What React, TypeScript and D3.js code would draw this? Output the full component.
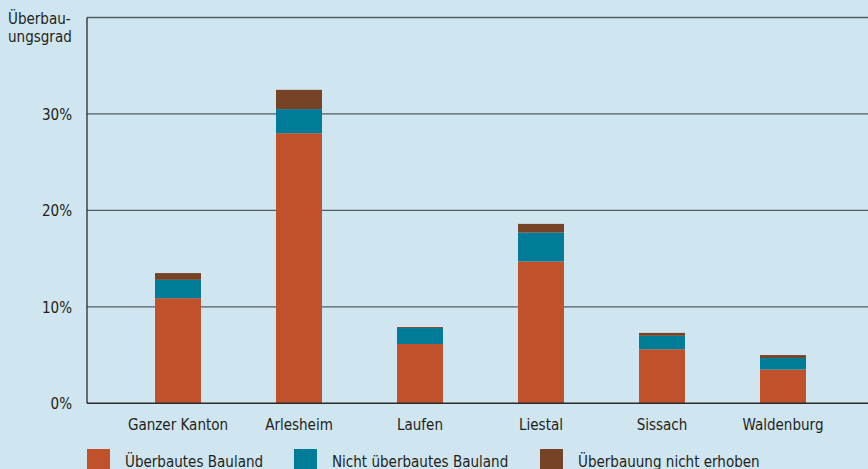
import React from "react";
import * as d3 from "d3";

// Überbauungsgrad der Bauzonen nach Bezirk
const categories = ["Ganzer Kanton", "Arlesheim", "Laufen", "Liestal", "Sissach", "Waldenburg"];
const seriesNames = ["Überbautes Bauland", "Nicht überbautes Bauland", "Überbauung nicht erhoben"];
const ueberbaut = [10.9, 28.0, 6.15, 14.7, 5.6, 3.5];
const nichtUeberbaut = [1.9, 2.5, 1.65, 3.0, 1.4, 1.2];
const nichtErhoben = [0.7, 2.0, 0.1, 0.9, 0.3, 0.3];
const yTicks = [0, 10, 20, 30, 40];
const yTickLabels = ["0%", "10%", "20%", "30%", ""];

const colors = ["#c0512b", "#007b98", "#774326"];

const W = 868;
const H = 469;
const FONT = "'Liberation Sans Narrow', 'DejaVu Sans Condensed', sans-serif";
const TEXT_COLOR = "#231f20";
const NARROW = 0.94;

// Text drawn with a slight horizontal squeeze to get a condensed look
function Label({
  x,
  y,
  anchor = "start",
  children,
}: {
  x: number;
  y: number;
  anchor?: "start" | "middle" | "end";
  children: React.ReactNode;
}) {
  return (
    <g transform={`translate(${x},${y}) scale(${NARROW},1)`}>
      <text x={0} y={0} textAnchor={anchor} fontSize={16} fill={TEXT_COLOR}>
        {children}
      </text>
    </g>
  );
}

export default function App() {
  const x = d3
    .scaleBand<string>()
    .domain(categories)
    .range([117.5, 843.5])
    .paddingInner(0.62)
    .paddingOuter(0.31);
  const y = d3.scaleLinear().domain([0, 40]).range([403.3, 17.5]);

  const rows = categories.map((c, i) => ({
    cat: c,
    a: ueberbaut[i],
    b: nichtUeberbaut[i],
    c: nichtErhoben[i],
  }));
  const stacked = d3.stack<any>().keys(["a", "b", "c"])(rows);

  const legendX = [87, 294, 540];

  return (
    <svg
      width={W}
      height={H}
      style={{ position: "fixed", left: 0, top: 0, display: "block" }}
      fontFamily={FONT}
    >
      <rect x={0} y={0} width={W} height={H} fill="#cfe5ef" />

      {/* gridlines */}
      {yTicks.slice(1).map((t) => (
        <line key={t} x1={87} x2={W} y1={y(t)} y2={y(t)} stroke="#535c61" strokeWidth={1.3} />
      ))}

      {/* stacked bars */}
      {stacked.map((layer, li) =>
        layer.map((d, i) => (
          <rect
            key={`${li}-${i}`}
            x={x(categories[i])}
            width={x.bandwidth()}
            y={y(d[1])}
            height={y(d[0]) - y(d[1])}
            fill={colors[li]}
          />
        ))
      )}

      {/* axes */}
      <line x1={87} x2={87} y1={y(40)} y2={y(0)} stroke="#2b2b2b" strokeWidth={1.3} />
      <line x1={87} x2={W} y1={y(0)} y2={y(0)} stroke="#2b2b2b" strokeWidth={1.5} />

      {yTicks.map((t, i) => (
        <Label key={t} x={72} y={y(t) + 6} anchor="end">
          {yTickLabels[i]}
        </Label>
      ))}

      <Label x={8} y={24}>Überbau-</Label>
      <Label x={8} y={42}>ungsgrad</Label>

      {categories.map((c) => (
        <Label key={c} x={(x(c) as number) + x.bandwidth() / 2} y={430} anchor="middle">
          {c}
        </Label>
      ))}

      {/* legend */}
      {seriesNames.map((s, i) => (
        <g key={s}>
          <rect x={legendX[i]} y={449} width={23} height={23} fill={colors[i]} />
          <Label x={legendX[i] + 38} y={466.5}>
            {s}
          </Label>
        </g>
      ))}
    </svg>
  );
}
